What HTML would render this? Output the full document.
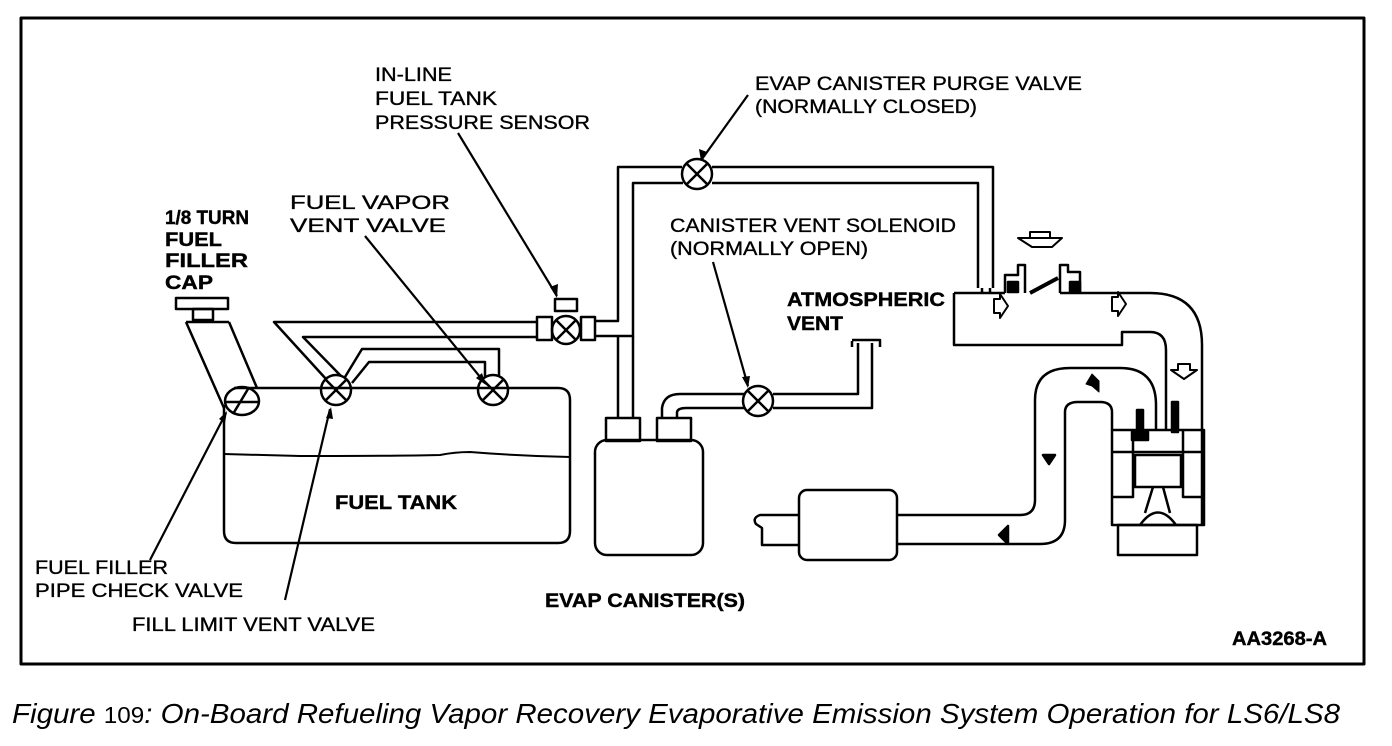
<!DOCTYPE html>
<html><head><meta charset="utf-8"><style>
body{margin:0;background:#fff;width:1392px;height:746px;overflow:hidden}
svg{display:block}
text{font-family:"Liberation Sans",sans-serif;fill:#000}
.t{font-size:19px;stroke:#000;stroke-width:0.35}
.b{font-size:19px;font-weight:bold;stroke:#000;stroke-width:0.4}
</style></head><body>
<svg width="1392" height="746" viewBox="0 0 1392 746" xmlns="http://www.w3.org/2000/svg">
<g fill="none" stroke="#000" stroke-width="2.5" stroke-linejoin="round">
<rect x="21" y="18" width="1343" height="646" stroke-width="3"/>
<rect x="176" y="298" width="52" height="11"/>
<rect x="193" y="309" width="20" height="11"/>
<path d="M186,322 L229,322 M186,322 L224,408 M229,322 L257,388"/>
<ellipse cx="242" cy="401" rx="17" ry="14"/>
<path d="M233,414 L248,389 M226,402 L258,402"/>
<path d="M234,388 L558,388 Q570,388 570,400 L570,531 Q570,543 558,543 L236,543 Q224,543 224,531 L224,405"/>
<path d="M224,454 Q260,455 300,456 Q400,456 440,455 Q455,452 470,452 Q520,456 570,457" stroke-width="2"/>
<circle cx="336" cy="390" r="15"/><path d="M325,379 L347,401 M347,379 L325,401"/>
<circle cx="493" cy="390" r="15"/><path d="M482,379 L504,401 M504,379 L482,401"/>
<path d="M537,322 L274,322 L326,379 M537,337 L303,337 L341,376"/>
<path d="M345,377 L362,349 L499,349 L499,377 M352,383 L369,362 L485,362 L485,378"/>
<rect x="537" y="317" width="15" height="23"/>
<circle cx="566" cy="330" r="14"/><path d="M556,320 L576,340 M576,320 L556,340"/>
<rect x="581" y="317" width="14" height="23"/>
<rect x="555" y="299" width="22" height="12"/>
<path d="M595,321 L618,321 L618,167 L682,167 M595,336 L633,336 L633,183 L683,183"/>
<path d="M633,336 L633,418 M618,336 L618,418"/>
<circle cx="697" cy="174" r="15"/><path d="M686,163 L708,185 M708,163 L686,185"/>
<path d="M712,167 L993,167 L993,288 M712,183 L978,183 L978,288"/>
<path d="M982,288 L982,293 M990,288 L990,293"/>
<rect x="595" y="440" width="108" height="115" rx="12"/>
<rect x="606" y="418" width="34" height="23"/>
<rect x="657" y="418" width="34" height="23"/>
<path d="M662,418 L662,408 Q664,394 680,394 L744,394 M677,418 L677,412 Q678,408 686,408 L744,408"/>
<circle cx="758" cy="401" r="15"/><path d="M747,390 L769,412 M769,390 L747,412"/>
<path d="M773,394 L858,394 L858,343 M773,408 L872,408 L872,343 M852,341 L852,347 M852,340 L880,340 L880,347"/>
<path d="M954,293 L1005,293 M1060,293 L1080,293 L1150,293 Q1202,293 1202,345 L1202,525"/>
<path d="M954,293 L954,345 L1122,345 L1122,332 L1150,332 Q1166,332 1166,350 L1166,430"/>
<path d="M1005,293 L1005,275 L1018,275 L1018,265 L1025,265 L1025,293 M1060,293 L1060,265 L1068,265 L1068,272 L1080,272 L1080,293"/>
<path d="M1030,293 L1058,278" stroke-width="4"/>
<rect x="1008" y="282" width="10" height="10" fill="#000"/>
<rect x="1070" y="282" width="10" height="10" fill="#000"/>
<path d="M1018,238 L1062,238 L1052,247 L1032,247 Z M1030,238 L1030,232 L1050,232 L1050,238" stroke-width="2"/>
<path d="M1112,430 L1204,430 L1204,525 L1112,525 Z M1112,452 L1204,452 M1133,430 L1133,497 L1112,497 M1183,430 L1183,497 L1204,497"/>
<rect x="1135" y="455" width="46" height="32"/>
<path d="M1153,487 L1145,513 M1163,487 L1170,513 M1140,525 Q1158,500 1176,525"/>
<rect x="1118" y="525" width="79" height="30"/>
<rect x="1137" y="410" width="6" height="25" fill="#000"/>
<rect x="1132" y="432" width="16" height="8" fill="#000"/>
<rect x="1172" y="402" width="6" height="30" fill="#000"/>
<path d="M1156,430 L1156,405 Q1156,368 1120,368 L1070,368 Q1035,368 1035,400 L1035,500 Q1035,515 1020,515 L897,515"/>
<path d="M1112,430 L1112,412 Q1112,402 1100,402 L1078,402 Q1065,402 1065,412 L1065,520 Q1065,544 1040,544 L897,544"/>
<rect x="799" y="490" width="98" height="70" rx="8"/>
<path d="M799,515 L760,515 Q752,518 756,524 L762,528 L762,545 L799,545"/>
<path d="M994,299 L1000,299 L1000,294 L1008,306 L1000,318 L1000,313 L994,313 Z" stroke-width="2"/>
<path d="M1112,297 L1118,297 L1118,292 L1126,304 L1118,316 L1118,311 L1112,311 Z" stroke-width="2"/>
<path d="M1178,364 L1190,364 L1190,370 L1197,370 L1184,379 L1171,370 L1178,370 Z" stroke-width="2"/>
<path d="M1092,374 L1099,381 L1099,392 L1092,386 L1086,384 Z" fill="#000" stroke-width="1"/>
<path d="M1043,455 L1055,455 L1049,464 Z" fill="#000"/>
<path d="M999,535 L1008,526 L1008,544 Z" fill="#000"/>
</g>
<g stroke="#000" stroke-width="2.2" fill="none">
<path d="M458,133 L557,296"/><path d="M748,95 L702,159"/>
<path d="M365,236 L485,383"/><path d="M713,262 L748,386"/>
<path d="M150,560 L226,413"/><path d="M285,600 L330,409"/>
</g>
<g fill="#000">
<path d="M557,298 L550,287 L558,284 Z"/><path d="M701,161 L699,149 L707,152 Z"/>
<path d="M486,385 L476,378 L482,373 Z"/><path d="M748,388 L742,377 L750,376 Z"/>
<path d="M227,411 L225,423 L219,419 Z"/><path d="M331,407 L333,419 L326,418 Z"/>
</g>
<text class="t" x="375" y="81" textLength="77" lengthAdjust="spacingAndGlyphs">IN-LINE</text>
<text class="t" x="375" y="105" textLength="122" lengthAdjust="spacingAndGlyphs">FUEL TANK</text>
<text class="t" x="375" y="129" textLength="215" lengthAdjust="spacingAndGlyphs">PRESSURE SENSOR</text>
<text class="t" x="755" y="90" textLength="327" lengthAdjust="spacingAndGlyphs">EVAP CANISTER PURGE VALVE</text>
<text class="t" x="755" y="113" textLength="222" lengthAdjust="spacingAndGlyphs">(NORMALLY CLOSED)</text>
<text class="t" x="290" y="209" textLength="160" lengthAdjust="spacingAndGlyphs">FUEL VAPOR</text>
<text class="t" x="290" y="232" textLength="156" lengthAdjust="spacingAndGlyphs">VENT VALVE</text>
<text class="b" x="165" y="224" textLength="84" lengthAdjust="spacingAndGlyphs">1/8 TURN</text>
<text class="b" x="165" y="246" textLength="57" lengthAdjust="spacingAndGlyphs">FUEL</text>
<text class="b" x="165" y="267" textLength="83" lengthAdjust="spacingAndGlyphs">FILLER</text>
<text class="b" x="165" y="289" textLength="48" lengthAdjust="spacingAndGlyphs">CAP</text>
<text class="t" x="670" y="232" textLength="286" lengthAdjust="spacingAndGlyphs">CANISTER VENT SOLENOID</text>
<text class="t" x="670" y="255" textLength="198" lengthAdjust="spacingAndGlyphs">(NORMALLY OPEN)</text>
<text class="b" x="787" y="306" textLength="158" lengthAdjust="spacingAndGlyphs">ATMOSPHERIC</text>
<text class="b" x="787" y="330" textLength="56" lengthAdjust="spacingAndGlyphs">VENT</text>
<text class="b" x="335" y="509" textLength="122" lengthAdjust="spacingAndGlyphs">FUEL TANK</text>
<text class="t" x="35" y="574" textLength="133" lengthAdjust="spacingAndGlyphs">FUEL FILLER</text>
<text class="t" x="35" y="597" textLength="208" lengthAdjust="spacingAndGlyphs">PIPE CHECK VALVE</text>
<text class="t" x="132" y="631" textLength="243" lengthAdjust="spacingAndGlyphs">FILL LIMIT VENT VALVE</text>
<text class="b" x="545" y="607" textLength="200" lengthAdjust="spacingAndGlyphs">EVAP CANISTER(S)</text>
<text class="b" x="1232" y="645" textLength="95" lengthAdjust="spacingAndGlyphs">AA3268-A</text>
<text x="12" y="723" style="font-size:28px;font-style:italic" textLength="1328" lengthAdjust="spacingAndGlyphs">Figure <tspan style="font-style:normal;font-size:23px">109</tspan>: On-Board Refueling Vapor Recovery Evaporative Emission System Operation for LS6/LS8</text>
</svg>
</body></html>
